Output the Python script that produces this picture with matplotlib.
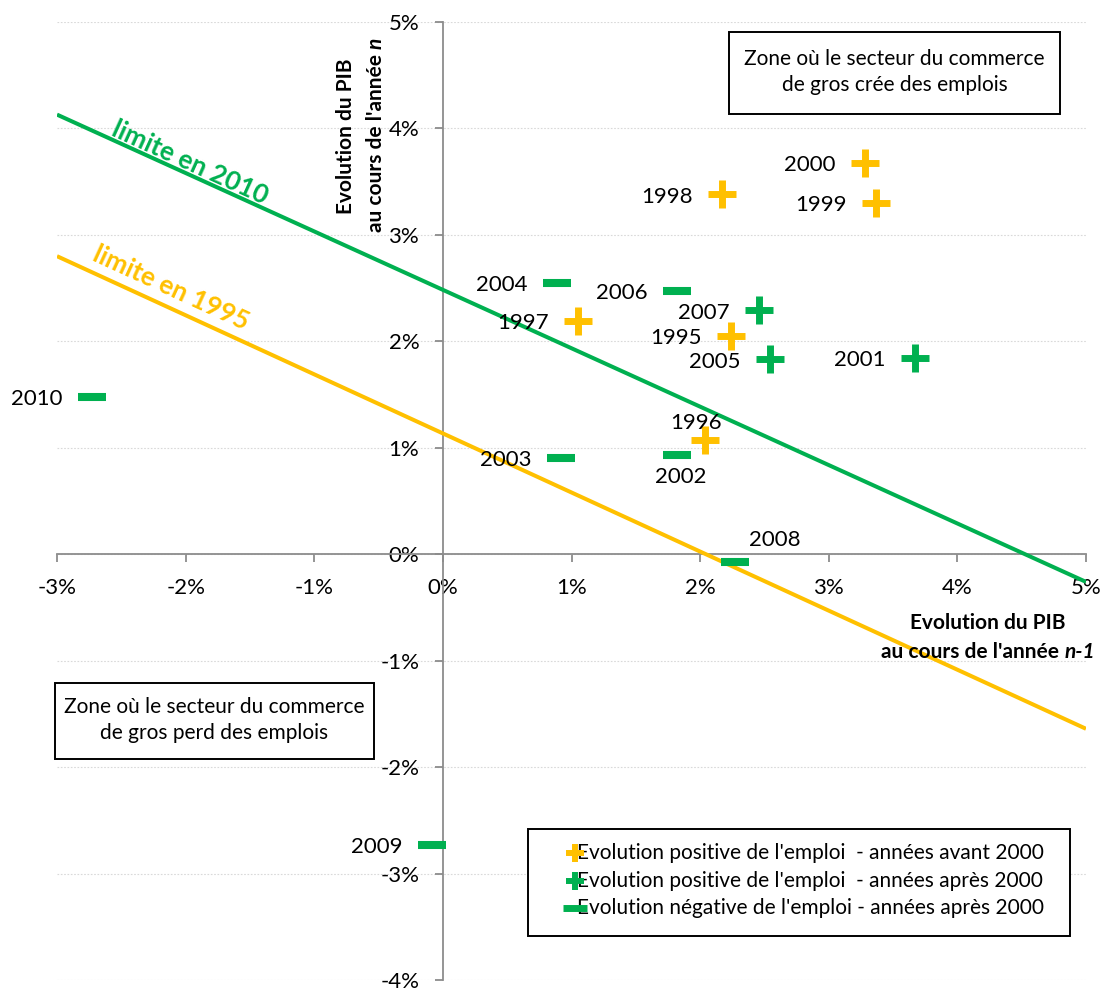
import math
import matplotlib
matplotlib.use('Agg')
import matplotlib.pyplot as plt
from matplotlib.patches import Rectangle
from matplotlib.lines import Line2D
from matplotlib.markers import MarkerStyle

plt.rcParams['font.family'] = ['Lato', 'DejaVu Sans']

# ---------------- data ----------------
years_pos_before = ['1995', '1996', '1997', '1998', '1999', '2000']
x_pos_before = [2.24, 2.04, 1.05, 2.17, 3.37, 3.28]
y_pos_before = [2.05, 1.07, 2.19, 3.38, 3.30, 3.68]

years_pos_after = ['2001', '2005', '2007']
x_pos_after = [3.67, 2.54, 2.46]
y_pos_after = [1.84, 1.83, 2.29]

years_neg_after = ['2002', '2003', '2004', '2006', '2008', '2009', '2010']
x_neg_after = [1.82, 0.92, 0.89, 1.82, 2.27, -0.085, -2.73]
y_neg_after = [0.93, 0.905, 2.55, 2.47, -0.075, -2.73, 1.48]

limit_x = [-3, 5]
limit_1995 = [2.80, -1.64]
limit_2010 = [4.13, -0.26]

x_ticks = [-3, -2, -1, 0, 1, 2, 3, 4, 5]
x_tick_labels = ['-3%', '-2%', '-1%', '0%', '1%', '2%', '3%', '4%', '5%']
y_ticks = [-4, -3, -2, -1, 0, 1, 2, 3, 4, 5]
y_tick_labels = ['-4%', '-3%', '-2%', '-1%', '0%', '1%', '2%', '3%', '4%', '5%']

legend_labels = ["Evolution positive de l'emploi  - années avant 2000",
                 "Evolution positive de l'emploi  - années après 2000",
                 "Evolution négative de l'emploi - années après 2000"]
zone_top_text = "Zone où le secteur du commerce\nde gros crée des emplois"
zone_bottom_text = "Zone où le secteur du commerce\nde gros perd des emplois"
label_limit_2010 = "limite en 2010"
label_limit_1995 = "limite en 1995"

# label offsets (points) for the year labels that are not simply on the left
special_offsets = {'1996': (-6.5, 12.7, 'center'),
                   '2002': (2.5, -15.6, 'center'),
                   '2008': (29.0, 15.8, 'center')}

# ---------------- style ----------------
YELLOW = '#FFC000'
GREEN = '#00B050'
AXIS_GREY = '#8c8c8c'
FS = 15
FS_NUM = 16

W, H = 1110, 988
fig = plt.figure(figsize=(W / 100, H / 100), dpi=100)


def fx(px):
    return px / W


def fy(py):
    return 1 - py / H


ax = fig.add_axes([fx(57), fy(980), (1086 - 57) / W, (980 - 22) / H])
ax.set_xlim(-3, 5)
ax.set_ylim(-4, 5)
for s in ['top', 'right']:
    ax.spines[s].set_visible(False)
ax.spines['left'].set_position(('data', 0))
ax.spines['bottom'].set_position(('data', 0))
for s in ['left', 'bottom']:
    ax.spines[s].set_color(AXIS_GREY)
    ax.spines[s].set_linewidth(1.3)
ax.set_xticks(x_ticks)
ax.set_xticklabels(x_tick_labels)
ax.set_yticks(y_ticks)
ax.set_yticklabels(y_tick_labels)
ax.tick_params(axis='both', direction='out', length=6, width=1.3,
               color=AXIS_GREY, labelsize=FS_NUM, pad=11)
ax.yaxis.grid(True, color='#d9d9d9', linestyle=(0, (1.5, 1.5)), linewidth=0.8)
ax.set_axisbelow(True)

# limit lines
ax.plot(limit_x, limit_2010, color=GREEN, lw=2.9, solid_capstyle='butt', zorder=3)
ax.plot(limit_x, limit_1995, color=YELLOW, lw=2.9, solid_capstyle='butt', zorder=3)


def screen_angle(xs, ys):
    p1 = ax.transData.transform((xs[0], ys[0]))
    p2 = ax.transData.transform((xs[1], ys[1]))
    return math.degrees(math.atan2(p2[1] - p1[1], p2[0] - p1[0]))


ax.text(-1.967, 3.68, label_limit_2010, color=GREEN, fontsize=19, fontweight='bold',
        rotation=screen_angle(limit_x, limit_2010), rotation_mode='anchor',
        ha='center', va='center', zorder=4)
ax.text(-2.115, 2.50, label_limit_1995, color=YELLOW, fontsize=19, fontweight='bold',
        rotation=screen_angle(limit_x, limit_1995), rotation_mode='anchor',
        ha='center', va='center', zorder=4)

# markers
plus_style = MarkerStyle('+', capstyle='butt')
minus_style = MarkerStyle('_', capstyle='butt')
ax.plot(x_pos_before, y_pos_before, linestyle='none', marker=plus_style, markersize=19.5,
        mew=5.0, color=YELLOW, zorder=5, clip_on=False)
ax.plot(x_pos_after, y_pos_after, linestyle='none', marker=plus_style, markersize=19.5,
        mew=5.0, color=GREEN, zorder=5, clip_on=False)
ax.plot(x_neg_after, y_neg_after, linestyle='none', marker=minus_style, markersize=20,
        mew=5.8, color=GREEN, zorder=5, clip_on=False)

# year labels
for yrs, xs, ys in [(years_pos_before, x_pos_before, y_pos_before),
                    (years_pos_after, x_pos_after, y_pos_after),
                    (years_neg_after, x_neg_after, y_neg_after)]:
    for yr, xv, yv in zip(yrs, xs, ys):
        if yr in special_offsets:
            dx, dy, ha = special_offsets[yr]
        else:
            dx, dy, ha = -21.2, -1.5, 'right'
        ax.annotate(yr, (xv, yv), xytext=(dx, dy), textcoords='offset points',
                    ha=ha, va='center', fontsize=FS_NUM, color='black', zorder=6,
                    annotation_clip=False)

# zone boxes
def zone_box(x0, y0, x1, y1, text):
    r = Rectangle((fx(x0), fy(y1)), (x1 - x0) / W, (y1 - y0) / H, transform=fig.transFigure,
                  facecolor='white', edgecolor='black', lw=1.4, zorder=7)
    fig.add_artist(r)
    fig.text(fx((x0 + x1) / 2), fy((y0 + y1) / 2 - 1), text, ha='center', va='center',
             fontsize=FS, linespacing=1.35, zorder=8)


zone_box(729, 32, 1060, 114, zone_top_text)
zone_box(55, 683, 374, 759, zone_bottom_text)

# legend
leg = Rectangle((fx(528), fy(936)), (1070 - 528) / W, (936 - 829) / H, transform=fig.transFigure,
                facecolor='white', edgecolor='black', lw=1.4, zorder=7)
fig.add_artist(leg)
leg_rows = [853, 881, 908]
leg_styles = [(plus_style, YELLOW, 13, 4.3), (plus_style, GREEN, 13, 4.3), (minus_style, GREEN, 17, 5.0)]
for lab, row, (mk, col, ms, mw) in zip(legend_labels, leg_rows, leg_styles):
    fig.text(fx(577), fy(row), lab, ha='left', va='center', fontsize=FS, zorder=8)
    fig.add_artist(Line2D([fx(575)], [fy(row)], transform=fig.transFigure, marker=mk,
                          markersize=ms, mew=mw, color=col, linestyle='none', zorder=9))

# rich axis titles
renderer = fig.canvas.get_renderer()


def measure(s, style):
    t = fig.text(0, 0, s, fontsize=FS, fontweight='bold', fontstyle=style)
    w = t.get_window_extent(renderer).width
    t.remove()
    return w


space_w = measure('a a', 'normal') - measure('aa', 'normal')


def rich_line(cx, cy, parts, rotation=0):
    widths = [measure(s, st) for s, st in parts]
    total = sum(widths) + space_w * (len(parts) - 1)
    if rotation == 0:
        pos = cx - total / 2
        for (s, st), w in zip(parts, widths):
            fig.text(fx(pos), fy(cy), s, fontsize=FS, fontweight='bold', fontstyle=st,
                     ha='left', va='center', zorder=8)
            pos += w + space_w
    else:
        disp_cy = H - cy
        pos = disp_cy - total / 2
        for (s, st), w in zip(parts, widths):
            fig.text(fx(cx), pos / H, s, fontsize=FS, fontweight='bold', fontstyle=st,
                     rotation=90, rotation_mode='anchor', ha='left', va='center', zorder=8)
            pos += w + space_w


rich_line(988, 623, [("Evolution du PIB", 'normal')])
rich_line(988, 652, [("au cours de l'année", 'normal'), ("n-1", 'italic')])
rich_line(346, 136, [("Evolution du PIB", 'normal')], rotation=90)
rich_line(376, 135, [("au cours de l'année", 'normal'), ("n", 'italic')], rotation=90)

fig.savefig('out.png', dpi=100)
